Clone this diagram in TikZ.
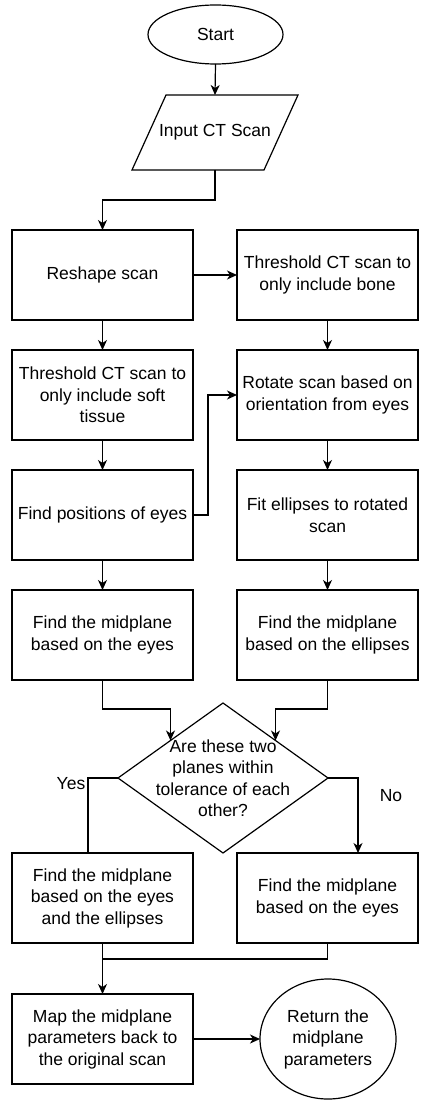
\documentclass[tikz,border=0pt]{standalone}
\usepackage{fontspec}
\setmainfont{Liberation Sans}
\usetikzlibrary{arrows.meta,shapes.geometric,calc}
\begin{document}
\begin{tikzpicture}[x=1pt,y=-1pt,
  every node/.style={font=\fontsize{17.5}{21.5}\selectfont, align=center, inner sep=0pt, outer sep=0pt},
  line/.style={line width=1.2pt, draw=black},
  arr/.style={line, -{Stealth[length=10pt,width=9pt,inset=3pt]}},
  procbox/.style={draw=black, line width=1.2pt, rectangle, minimum width=181pt, minimum height=90pt},
  term/.style={draw=black, line width=1.2pt, ellipse}
]
\useasboundingbox[fill=white] (0,0) rectangle (427,1107);

\node[term, minimum width=135pt, minimum height=59pt] (start) at (215.5,34.5) {Start};
\node[minimum width=166pt, minimum height=75pt] (inp) at (215,132.5) {Input CT Scan};
\draw[line] (inp.south west) -- ($(inp.north west)+(34,0)$) -- (inp.north east) -- ($(inp.south east)+(-34,0)$) -- cycle;

\node[procbox] (b1) at (102.5,275) {Reshape scan};
\node[procbox] (b2) at (327.5,275) {Threshold CT scan to\\only include bone};
\node[procbox] (b3) at (102.5,395) {Threshold CT scan to\\only include soft\\tissue};
\node[procbox] (b4) at (327.5,395) {Rotate scan based on\\orientation from eyes};
\node[procbox] (b5) at (102.5,515) {Find positions of eyes};
\node[procbox] (b6) at (327.5,515) {Fit ellipses to rotated\\scan};
\node[procbox] (b7) at (102.5,635) {Find the midplane\\based on the eyes};
\node[procbox] (b8) at (327.5,635) {Find the midplane\\based on the ellipses};

\node[minimum width=210pt, minimum height=150pt] (dec) at (223,778) {Are these two\\planes within\\tolerance of each\\other?};
\draw[line] (dec.north) -- (dec.east) -- (dec.south) -- (dec.west) -- cycle;
\coordinate (dl) at ($(dec.north)!0.5!(dec.west)$);
\coordinate (dr) at ($(dec.north)!0.5!(dec.east)$);

\node[procbox] (b11) at (102.5,898) {Find the midplane\\based on the eyes\\and the ellipses};
\node[procbox] (b12) at (327.5,898) {Find the midplane\\based on the eyes};
\node[procbox] (b13) at (102.5,1039) {Map the midplane\\parameters back to\\the original scan};
\node[term, minimum width=136pt, minimum height=120pt] (ret) at (328,1039) {Return the\\midplane\\parameters};

\node (yes) at (71,784) {Yes};
\node (no) at (391,796) {No};

\draw[arr] (start.south) -- (inp.north);
\draw[arr] (inp.south) -- ++(0,30) -| (b1.north);
\draw[arr] (b1.east) -- (b2.west);
\draw[arr] (b1.south) -- (b3.north);
\draw[arr] (b3.south) -- (b5.north);
\draw[arr] (b5.south) -- (b7.north);
\draw[arr] (b2.south) -- (b4.north);
\draw[arr] (b4.south) -- (b6.north);
\draw[arr] (b6.south) -- (b8.north);
\draw[arr] (b5.east) -- ++(15,0) |- (b4.west);
\draw[arr] (b7.south) -- ++(0,29) -| (dl);
\draw[arr] (b8.south) -- ++(0,29) -| (dr);
\draw[line] (dec.west) -| ([xshift=-14.5pt]b11.north);
\draw[arr] (dec.east) -| ([xshift=30.5pt]b12.north);
\draw[arr] (b11.south) -- (b13.north);
\draw[line] (b12.south) |- ($(b11.south)+(0,16)$);
\draw[arr] (b13.east) -- (ret.west);
\end{tikzpicture}
\end{document}
